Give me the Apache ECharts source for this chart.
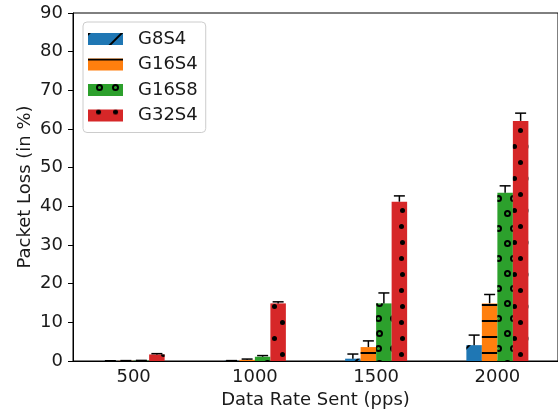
<!DOCTYPE html>
<html>
<head>
<meta charset="utf-8">
<script src="https://cdn.jsdelivr.net/npm/echarts@6/dist/echarts.min.js"></script>
<style>
  html, body { margin: 0; padding: 0; background: #fff; }
  #chart { width: 558px; height: 416px; }
</style>
</head>
<body>
<div id="chart"></div>
<script>
const categories = ['500', '1000', '1500', '2000']
const seriesNames = ['G8S4', 'G16S4', 'G16S8', 'G32S4']

// mean packet loss (%)
const g8s4 = [0.02, 0.05, 0.6, 4.1]
const g16s4 = [0.05, 0.3, 3.6, 14.9]
const g16s8 = [0.1, 1.1, 14.9, 43.5]
const g32s4 = [1.7, 14.9, 41.2, 62.1]

// upper error
const g8s4Err = [0.05, 0.05, 1.2, 2.6]
const g16s4Err = [0.05, 0.2, 1.6, 2.3]
const g16s8Err = [0.05, 0.3, 2.7, 1.8]
const g32s4Err = [0.2, 0.4, 1.5, 2.0]

const yTicks = [0, 10, 20, 30, 40, 50, 60, 70, 80, 90]

const values = [g8s4, g16s4, g16s8, g32s4]
const errors = [g8s4Err, g16s4Err, g16s8Err, g32s4Err]
const colors = ['#1f77b4', '#ff7f0e', '#2ca02c', '#d62728']

const BAR_W = 15.5
const FONT = 'DejaVu Sans'
const FS = 18
const TEXT = '#1a1a1a'

const ring = 'path://M0,5A5,5,0,1,0,10,5A5,5,0,1,0,0,5ZM2.8,5A2.2,2.2,0,1,1,7.2,5A2.2,2.2,0,1,1,2.8,5Z'

const decals = [
  { symbol: 'rect', color: '#000', dashArrayX: [1, 0], dashArrayY: [1.3, 21], rotation: -Math.PI / 4 },
  { symbol: 'rect', color: '#000', dashArrayX: [1, 0], dashArrayY: [1.3, 13.7], rotation: 0 },
  { symbol: ring, color: '#000', symbolSize: 1, dashArrayX: [[7, 8], [0, 7.5, 7, 0.5]], dashArrayY: [7, 8] },
  { symbol: 'circle', color: '#000', symbolSize: 1, dashArrayX: [[4.2, 10.8], [0, 7.5, 4.2, 3.3]], dashArrayY: [4.2, 10.8] }
]

const barSeries = seriesNames.map((name, s) => ({
  name,
  type: 'bar',
  data: values[s],
  barWidth: BAR_W,
  barGap: 0,
  itemStyle: { color: colors[s], decal: decals[s] },
  emphasis: { disabled: true },
  z: 2
}))

const errSeries = seriesNames.map((name, s) => ({
  type: 'custom',
  name: name + '-err',
  data: values[s].map((v, i) => [i, v, errors[s][i]]),
  z: 5,
  silent: true,
  renderItem: (params, api) => {
    const i = api.value(0)
    const v = api.value(1)
    const e = api.value(2)
    const base = api.coord([i, v])
    const top = api.coord([i, v + e])
    const x = base[0] + (s - 1.5) * BAR_W
    const style = { stroke: '#000', lineWidth: 1.5 }
    return {
      type: 'group',
      children: [
        { type: 'line', shape: { x1: x, y1: base[1], x2: x, y2: top[1] }, style },
        { type: 'line', shape: { x1: x - 5.5, y1: top[1], x2: x + 5.5, y2: top[1] }, style }
      ]
    }
  }
}))

const chart = echarts.init(document.getElementById('chart'))
chart.setOption({
  animation: false,
  textStyle: { fontFamily: FONT },
  grid: {
    left: 73,
    top: 13,
    width: 490,
    height: 348,
    show: true,
    borderColor: '#000',
    borderWidth: 1,
    backgroundColor: 'transparent'
  },
  legend: {
    data: seriesNames,
    icon: 'rect',
    orient: 'vertical',
    left: 83,
    top: 22,
    padding: [8, 8, 8, 5],
    itemWidth: 35,
    itemHeight: 12,
    itemGap: 7.5,
    backgroundColor: 'rgba(255,255,255,0.8)',
    borderColor: '#cccccc',
    borderWidth: 1,
    borderRadius: 4,
    textStyle: { fontFamily: FONT, fontSize: FS, color: TEXT, padding: [0, 0, 0, 10] }
  },
  xAxis: {
    type: 'category',
    data: categories,
    name: 'Data Rate Sent (pps)',
    nameLocation: 'middle',
    nameGap: 30,
    nameMoveOverlap: false,
    nameTextStyle: { fontFamily: FONT, fontSize: FS, color: TEXT },
    axisLine: { lineStyle: { color: '#000', width: 1 } },
    axisTick: { alignWithLabel: true, length: 5, lineStyle: { color: '#000' } },
    axisLabel: { fontFamily: FONT, fontSize: FS, color: TEXT, margin: 7 },
    splitLine: { show: false }
  },
  yAxis: {
    type: 'value',
    min: yTicks[0],
    max: yTicks[yTicks.length - 1],
    interval: 10,
    name: 'Packet Loss (in %)',
    nameLocation: 'middle',
    nameGap: 39,
    nameMoveOverlap: false,
    nameTextStyle: { fontFamily: FONT, fontSize: FS, color: TEXT },
    axisLine: { show: true, lineStyle: { color: '#000', width: 1 } },
    axisTick: { show: true, length: 5, lineStyle: { color: '#000' } },
    axisLabel: { fontFamily: FONT, fontSize: FS, color: TEXT, margin: 10 },
    splitLine: { show: false }
  },
  series: [...barSeries, ...errSeries]
})
</script>
</body>
</html>
